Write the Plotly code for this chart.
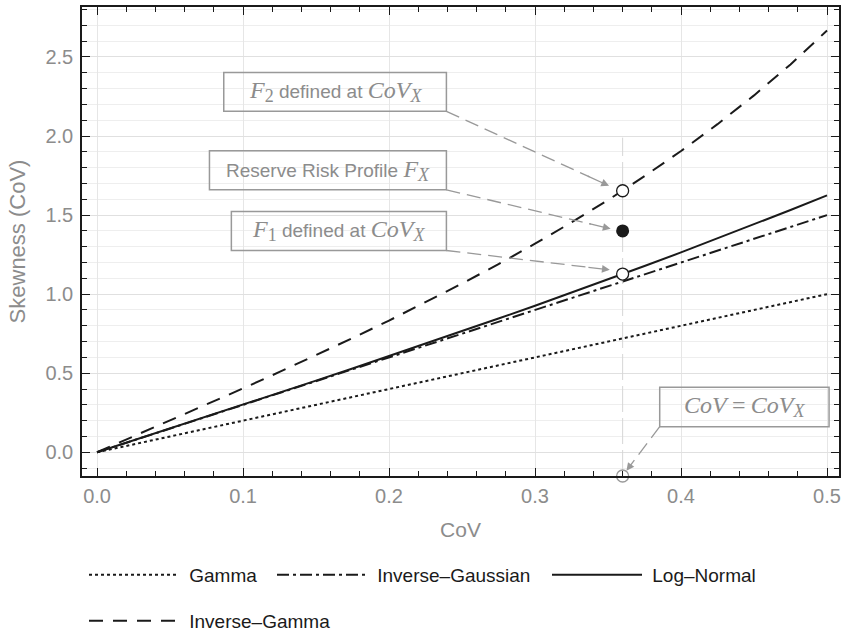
import plotly.graph_objects as go

# ---- data ----
cov = [0.0, 0.025, 0.05, 0.075, 0.1, 0.125, 0.15, 0.175, 0.2, 0.225, 0.25,
       0.275, 0.3, 0.325, 0.35, 0.375, 0.4, 0.425, 0.45, 0.475, 0.5]
gamma = [0.0, 0.05, 0.10, 0.15, 0.20, 0.25, 0.30, 0.35, 0.40, 0.45, 0.50,
         0.55, 0.60, 0.65, 0.70, 0.75, 0.80, 0.85, 0.90, 0.95, 1.00]
inv_gauss = [0.0, 0.075, 0.15, 0.225, 0.30, 0.375, 0.45, 0.525, 0.60, 0.675, 0.75,
             0.825, 0.90, 0.975, 1.05, 1.125, 1.20, 1.275, 1.35, 1.425, 1.50]
log_normal = [0.0, 0.075, 0.150, 0.226, 0.301, 0.377, 0.453, 0.530, 0.608, 0.686, 0.766,
              0.846, 0.927, 1.009, 1.093, 1.178, 1.264, 1.352, 1.441, 1.532, 1.625]
inv_gamma = [0.0, 0.100, 0.201, 0.302, 0.404, 0.508, 0.614, 0.722, 0.833, 0.948, 1.067,
             1.190, 1.319, 1.454, 1.595, 1.746, 1.905, 2.075, 2.257, 2.453, 2.667]

cov_x = 0.36
f2_skew = 1.654
fx_skew = 1.40
f1_skew = 1.127
axis_min_skew = -0.15

series_names = ["Gamma", "Inverse\u2013Gaussian", "Log\u2013Normal", "Inverse\u2013Gamma"]

# annotation texts
SERIF = "font-family:'Liberation Serif', 'DejaVu Serif', serif;font-size:24px"
SERIF_SUB = "font-family:'Liberation Serif', 'DejaVu Serif', serif;font-size:18px"
def m(s):
    return f"<span style=\"{SERIF}\"><i>{s}</i></span>"
def msub(s, italic=True):
    inner = f"<i>{s}</i>" if italic else s
    return f"<sub><span style=\"{SERIF_SUB}\">{inner}</span></sub>"

txt_f2 = m("F") + msub("2", False) + " defined at " + m("CoV") + msub("X")
txt_fx = "Reserve Risk Profile " + m("F") + msub("X")
txt_f1 = m("F") + msub("1", False) + " defined at " + m("CoV") + msub("X")
txt_cov = m("CoV") + " <span style=\"" + SERIF + "\">=</span> " + m("CoV") + msub("X")

# box extents (data coords) and arrow geometry
boxes = [
    (0.0868, 0.2393, 2.156, 2.402, txt_f2, (0.2393, 2.156), (0.3507, 1.685)),
    (0.0770, 0.2393, 1.660, 1.907, txt_fx, (0.2393, 1.660), (0.3518, 1.413)),
    (0.0920, 0.2393, 1.276, 1.523, txt_f1, (0.2393, 1.276), (0.3512, 1.154)),
    (0.3854, 0.5014, 0.162, 0.411, txt_cov, (0.3854, 0.162), (0.3626, -0.1165)),
]

GRAY = "#999999"
TXTGRAY = "#8c8c8c"
FONT = "Liberation Sans, Arial"
fig = go.Figure()

# curves
fig.add_trace(go.Scatter(x=cov, y=gamma, mode="lines", name="\u00a0" + series_names[0],
                         legend="legend",
                         line=dict(color="#1a1a1a", width=2, dash="3px,3px")))
fig.add_trace(go.Scatter(x=cov, y=inv_gauss, mode="lines", name="\u00a0" + series_names[1],
                         legend="legend2",
                         line=dict(color="#1a1a1a", width=2, dash="12px,4px,3px,4px")))
fig.add_trace(go.Scatter(x=cov, y=log_normal, mode="lines", name="\u00a0" + series_names[2],
                         legend="legend3",
                         line=dict(color="#1a1a1a", width=2)))
fig.add_trace(go.Scatter(x=cov, y=inv_gamma, mode="lines", name="\u00a0" + series_names[3],
                         legend="legend4",
                         line=dict(color="#1a1a1a", width=2, dash="14px,10px")))

# vertical reference line at CoV_X
fig.add_trace(go.Scatter(x=[cov_x, cov_x], y=[axis_min_skew, 1.99], mode="lines",
                         line=dict(color="#d6d6d6", width=1, dash="26px,6px"),
                         showlegend=False, hoverinfo="skip"))

# points
fig.add_trace(go.Scatter(x=[cov_x, cov_x], y=[f2_skew, f1_skew], mode="markers",
                         marker=dict(size=12, color="white", line=dict(color="#1a1a1a", width=1.3)),
                         showlegend=False, cliponaxis=False))
fig.add_trace(go.Scatter(x=[cov_x], y=[fx_skew], mode="markers",
                         marker=dict(size=13, color="#1a1a1a"),
                         showlegend=False, cliponaxis=False))
fig.add_trace(go.Scatter(x=[cov_x], y=[axis_min_skew], mode="markers",
                         marker=dict(size=12, color="rgba(0,0,0,0)", line=dict(color=GRAY, width=1.3)),
                         showlegend=False, cliponaxis=False))

# annotation boxes and arrows
for (x0, x1, y0, y1, txt, start, tip) in boxes:
    fig.add_shape(type="rect", x0=x0, x1=x1, y0=y0, y1=y1, xref="x", yref="y",
                  line=dict(color=GRAY, width=1.5), fillcolor="rgba(0,0,0,0)", layer="above")
    fig.add_annotation(x=(x0 + x1) / 2, y=(y0 + y1) / 2, text=txt, showarrow=False,
                       font=dict(family=FONT, size=19, color=TXTGRAY),
                       xref="x", yref="y")
    fx = start[0] + (tip[0] - start[0]) * 0.88
    fy = start[1] + (tip[1] - start[1]) * 0.88
    fig.add_shape(type="line", x0=start[0], y0=start[1], x1=fx, y1=fy, xref="x", yref="y",
                  line=dict(color=GRAY, width=1.3, dash="14px,7px"), layer="above")
    hx = start[0] + (tip[0] - start[0]) * 0.86
    hy = start[1] + (tip[1] - start[1]) * 0.86
    fig.add_annotation(x=tip[0], y=tip[1], ax=hx, ay=hy, axref="x", ayref="y",
                       xref="x", yref="y", text="", showarrow=True,
                       arrowhead=2, arrowsize=1.2, arrowwidth=1.3, arrowcolor=GRAY)

axis_common = dict(
    showline=True, linecolor="#1a1a1a", linewidth=1.5, mirror="allticks",
    ticks="inside", ticklen=8, tickcolor="#1a1a1a", tickwidth=1,
    tickfont=dict(family=FONT, size=20, color=TXTGRAY),
    zeroline=False,
)

fig.update_xaxes(
    range=[-0.0103, 0.5082], dtick=0.1, tick0=0, tickformat=".1f",
    showgrid=True, gridcolor="#e6e6e6", gridwidth=1,
    minor=dict(dtick=0.02, tick0=0, ticks="inside", ticklen=5, tickcolor="#1a1a1a", showgrid=False),
    ticklabelstandoff=1,
    title=dict(text="CoV", font=dict(family=FONT, size=21, color=TXTGRAY), standoff=17),
    **axis_common,
)
fig.update_yaxes(
    range=[-0.15, 2.816], dtick=0.5, tick0=0, tickformat=".1f",
    showgrid=True, gridcolor="#e0e0e0", gridwidth=1,
    minor=dict(dtick=0.1, tick0=0, ticks="inside", ticklen=5, tickcolor="#1a1a1a",
               showgrid=True, gridcolor="#eeeeee", gridwidth=1),
    ticklabelstandoff=3,
    title=dict(text="Skewness (CoV)", font=dict(family=FONT, size=22, color=TXTGRAY), standoff=14),
    **axis_common,
)

legend_font = dict(family=FONT, size=19, color="#1a1a1a")
def leg(xpx, ypx):
    return dict(orientation="h", x=(xpx - 82) / 757, xanchor="left",
                y=(476 - ypx) / 469, yanchor="middle",
                font=legend_font, itemwidth=90, bgcolor="rgba(0,0,0,0)")

fig.update_layout(
    width=844, height=632,
    margin=dict(l=82, r=5, t=7, b=156, autoexpand=False),
    plot_bgcolor="white", paper_bgcolor="white",
    legend=leg(84, 575),
    legend2=leg(272, 575),
    legend3=leg(547, 575),
    legend4=leg(84, 621),
)

fig.write_html("out.html")
